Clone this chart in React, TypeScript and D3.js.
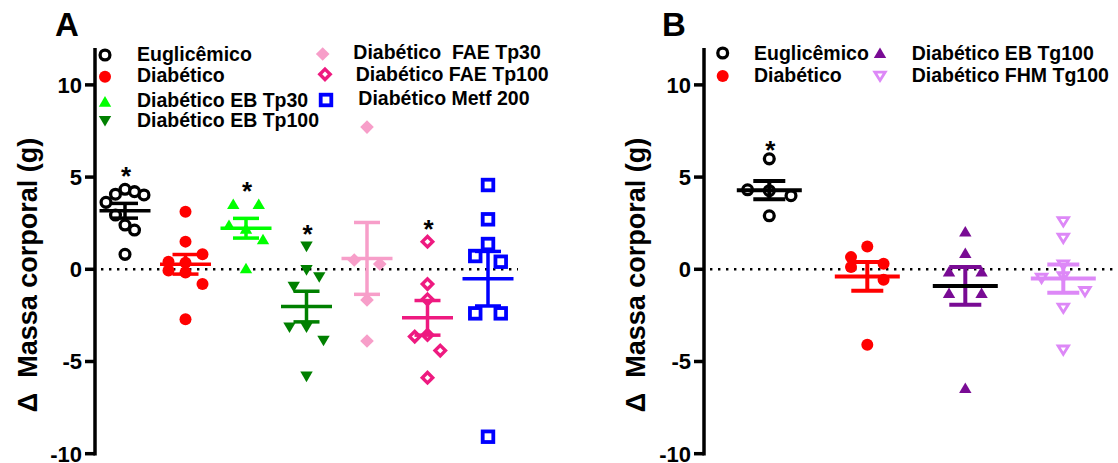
import React from 'react';
import * as d3 from 'd3';

// ---------- data ----------
const yTicks = [10, 5, 0, -5, -10];
const yDomain = [-10, 12];

const groupsA = [
  'Euglicêmico',
  'Diabético',
  'Diabético EB Tp30',
  'Diabético EB Tp100',
  'Diabético  FAE Tp30',
  'Diabético FAE Tp100',
  'Diabético Metf 200',
];
const euglicemicoA = [4.34, 4.21, 4.07, 4.03, 3.63, 2.4, 2.13, 2.94, 0.81];
const diabeticoA = [3.12, 1.5, 0.35, 0.81, 0.41, -0.18, -0.8, -0.07, -2.71];
const ebTp30 = [3.54, 3.54, 2.2, 1.63, 2.4, 0.05];
const ebTp100 = [1.23, -0.04, -0.43, -0.94, -3.15, -3.87, -3.15, -5.82];
const faeTp30 = [7.71, 0.29, 0.5, -1.66, -3.89];
const faeTp100 = [1.5, -0.8, -1.63, -3.56, -4.41, -3.65, -5.88];
const metf200 = [4.57, 2.71, 1.37, 0.41, 0.72, -2.39, -2.39, -9.08];
const valuesA = [euglicemicoA, diabeticoA, ebTp30, ebTp100, faeTp30, faeTp100, metf200];
const starsA = [true, false, true, true, false, true, false];

const groupsB = ['Euglicêmico', 'Diabético', 'Diabético EB Tg100', 'Diabético FHM Tg100'];
const euglicemicoB = [5.99, 4.26, 3.99, 4.31, 2.9];
const diabeticoB = [1.24, 0.3, 0.66, -0.57, 0.12, -4.09];
const ebTg100 = [2.05, 0.88, -0.12, -0.12, -1.29, -1.29, -6.44];
const fhmTg100 = [2.59, 1.69, 0.24, -0.39, -1.2, -0.48, -2.1, -4.37];
const valuesB = [euglicemicoB, diabeticoB, ebTg100, fhmTg100];
const starsB = [true, false, false, false];

// ---------- styles ----------
type MType = 'openCircle' | 'dot' | 'triUp' | 'triDown' | 'diamond' | 'openDiamond' | 'openSquare' | 'openTriDown';
const styleA: { m: MType; c: string; mean?: string }[] = [
  { m: 'openCircle', c: '#000000' },
  { m: 'dot', c: '#ff0000' },
  { m: 'triUp', c: '#00ff00' },
  { m: 'triDown', c: '#008000' },
  { m: 'diamond', c: '#f79ec9' },
  { m: 'openDiamond', c: '#ee1a80' },
  { m: 'openSquare', c: '#0000ff' },
];
const styleB: { m: MType; c: string; mean?: string }[] = [
  { m: 'openCircle', c: '#000000' },
  { m: 'dot', c: '#ff0000' },
  { m: 'triUp', c: '#790b94', mean: '#000000' },
  { m: 'openTriDown', c: '#dd88f7' },
];

const FONT = '"Liberation Sans", Arial, Helvetica, sans-serif';

function Marker({ t, c, x, y }: { t: MType; c: string; x: number; y: number }) {
  let el: any = null;
  switch (t) {
    case 'openCircle':
      el = <circle r={4.9} fill="#fff" stroke={c} strokeWidth={3.3} />;
      break;
    case 'dot':
      el = <circle r={6} fill={c} />;
      break;
    case 'triUp':
      el = <polygon points="0,-5.6 6.2,5 -6.2,5" fill={c} />;
      break;
    case 'triDown':
      el = <polygon points="0,5.6 6.2,-5 -6.2,-5" fill={c} />;
      break;
    case 'diamond':
      el = <polygon points="0,-6.8 6.8,0 0,6.8 -6.8,0" fill={c} />;
      break;
    case 'openDiamond':
      el = <polygon points="0,-5.2 5.2,0 0,5.2 -5.2,0" fill="#fff" stroke={c} strokeWidth={3.4} />;
      break;
    case 'openSquare':
      el = <rect x={-5.3} y={-5.3} width={10.6} height={10.6} fill="#fff" stroke={c} strokeWidth={3.8} />;
      break;
    case 'openTriDown':
      el = <polygon points="0,4.4 5.2,-3.9 -5.2,-3.9" fill="#fff" stroke={c} strokeWidth={2.8} />;
      break;
  }
  return <g transform={`translate(${x},${y})`}>{el}</g>;
}

// GraphPad-like row swarm: bottom-up rows, spread horizontally within row
function swarm(values: number[], baseStep: number, maxSpread: number, T = 0.82) {
  const idx = values.map((_, i) => i).sort((a, b) => values[a] - values[b]);
  const rows: number[][] = [];
  let cur: number[] = [];
  let first = 0;
  idx.forEach((i) => {
    if (cur.length === 0) {
      cur = [i];
      first = values[i];
    } else if (values[i] - first <= T) {
      cur.push(i);
    } else {
      rows.push(cur);
      cur = [i];
      first = values[i];
    }
  });
  if (cur.length) rows.push(cur);
  const maxRow = d3.max(rows, (r) => r.length) || 1;
  const step = maxRow > 1 ? Math.min(baseStep, maxSpread / (maxRow - 1)) : baseStep;
  const off = new Array(values.length).fill(0);
  rows.forEach((r) => {
    const mem = [...r].sort((a, b) => a - b);
    const n = mem.length;
    mem.forEach((i, k) => {
      let slot: number;
      if (n % 2 === 1) {
        slot = k === 0 ? 0 : (k % 2 === 1 ? 1 : -1) * Math.ceil(k / 2);
        off[i] = slot * step;
      } else {
        slot = (k % 2 === 0 ? 1 : -1) * (Math.floor(k / 2) + 0.5);
        off[i] = slot * step * 1.5;
      }
    });
  });
  return off;
}

function Panel({
  groups, values, styles, stars, range, axisX, zeroEnd, meanHalf, capHalf, barW, baseStep, maxSpread, starOff, y,
}: any) {
  const x = d3.scalePoint<string>().domain(groups).range(range);
  return (
    <g>
      {/* zero line */}
      <line x1={axisX + 6} x2={zeroEnd} y1={y(0)} y2={y(0)} stroke="#000" strokeWidth={2.4} strokeDasharray="2.4,5.6" />
      {/* axis */}
      <line x1={axisX} x2={axisX} y1={y(yDomain[1])} y2={y(yDomain[0]) + 1.75} stroke="#000" strokeWidth={3.5} />
      {yTicks.map((t) => (
        <g key={t}>
          <line x1={axisX - 10} x2={axisX} y1={y(t)} y2={y(t)} stroke="#000" strokeWidth={3.5} />
          <text x={axisX - 13} y={y(t)} dy="0.36em" textAnchor="end" fontSize={22} fontWeight="bold" fontFamily={FONT}>
            {t}
          </text>
        </g>
      ))}
      {/* points */}
      {groups.map((g: string, gi: number) => {
        const vals: number[] = values[gi];
        const off = swarm(vals, baseStep, maxSpread);
        const cx = x(g) as number;
        return (
          <g key={'p' + gi}>
            {vals.map((v, i) => (
              <Marker key={i} t={styles[gi].m} c={styles[gi].c} x={cx + off[i]} y={y(v)} />
            ))}
          </g>
        );
      })}
      {/* mean & SEM */}
      {groups.map((g: string, gi: number) => {
        const vals: number[] = values[gi];
        const m = d3.mean(vals) as number;
        const sem = (d3.deviation(vals) as number) / Math.sqrt(vals.length);
        const cx = x(g) as number;
        const c = styles[gi].c;
        const mc = styles[gi].mean || c;
        return (
          <g key={'e' + gi} strokeWidth={barW}>
            <line x1={cx} x2={cx} y1={y(m + sem)} y2={y(m - sem)} stroke={c} />
            <line x1={cx - capHalf} x2={cx + capHalf} y1={y(m + sem)} y2={y(m + sem)} stroke={c} />
            <line x1={cx - capHalf} x2={cx + capHalf} y1={y(m - sem)} y2={y(m - sem)} stroke={c} />
            <line x1={cx - meanHalf} x2={cx + meanHalf} y1={y(m)} y2={y(m)} stroke={mc} />
          </g>
        );
      })}
      {/* stars */}
      {groups.map((g: string, gi: number) => {
        if (!stars[gi]) return null;
        const mx = d3.max(values[gi] as number[]) as number;
        const cx = x(g) as number;
        return (
          <text key={'s' + gi} x={cx + 1} y={y(mx) - starOff + 15} textAnchor="middle" fontSize={26} fontWeight="bold" fontFamily={FONT}>
            *
          </text>
        );
      })}
    </g>
  );
}

export default function App() {
  const y = d3.scaleLinear().domain(yDomain).range([453.7, 48]);
  const lt = { fontSize: 19.5, fontWeight: 'bold' as const, fontFamily: FONT };
  return (
    <svg width={1118} height={463} style={{ position: 'absolute', left: 0, top: 0, background: '#fff' }}>
      <rect width={1118} height={463} fill="#fff" />
      {/* Panel labels */}
      <text x={55} y={36} fontSize={33} fontWeight="bold" fontFamily={FONT}>A</text>
      <text x={662} y={36} fontSize={33} fontWeight="bold" fontFamily={FONT}>B</text>
      {/* Y titles */}
      <text transform="translate(37,275) rotate(-90)" textAnchor="middle" fontSize={27} fontWeight="bold" fontFamily={FONT} style={{ whiteSpace: 'pre' }}>
        {'Δ  Massa corporal (g)'}
      </text>
      <text transform="translate(645,275) rotate(-90)" textAnchor="middle" fontSize={27} fontWeight="bold" fontFamily={FONT} style={{ whiteSpace: 'pre' }}>
        {'Δ  Massa corporal (g)'}
      </text>

      <Panel
        groups={groupsA} values={valuesA} styles={styleA} stars={starsA}
        range={[125, 488]} axisX={95} zeroEnd={518} meanHalf={25.5} capHalf={13} barW={3.5}
        baseStep={17} maxSpread={38} starOff={19} y={y}
      />
      <Panel
        groups={groupsB} values={valuesB} styles={styleB} stars={starsB}
        range={[769.3, 1063.3]} axisX={704} zeroEnd={1118} meanHalf={32.5} capHalf={16} barW={4}
        baseStep={21.7} maxSpread={60} starOff={15} y={y}
      />

      {/* Legend A */}
      <Marker t="openCircle" c="#000" x={105} y={55} />
      <Marker t="dot" c="#ff0000" x={105} y={76.7} />
      <Marker t="triUp" c="#00ff00" x={105} y={101.7} />
      <Marker t="triDown" c="#008000" x={105} y={121} />
      <text x={137} y={60.7} {...lt}>{groupsA[0]}</text>
      <text x={137} y={82.3} {...lt}>{groupsA[1]}</text>
      <text x={137} y={106.7} {...lt}>{groupsA[2]}</text>
      <text x={137} y={127.3} {...lt}>{groupsA[3]}</text>
      <Marker t="diamond" c="#f79ec9" x={322.7} y={54} />
      <Marker t="openDiamond" c="#ee1a80" x={325} y={74.3} />
      <Marker t="openSquare" c="#0000ff" x={326} y={100} />
      <text x={353.3} y={59.3} {...lt} style={{ whiteSpace: 'pre' }}>{groupsA[4]}</text>
      <text x={355.7} y={80.7} {...lt}>{groupsA[5]}</text>
      <text x={358.3} y={105} {...lt}>{groupsA[6]}</text>

      {/* Legend B */}
      <Marker t="openCircle" c="#000" x={722.7} y={53} />
      <Marker t="dot" c="#ff0000" x={722.7} y={76} />
      <Marker t="triUp" c="#790b94" x={880} y={53} />
      <Marker t="openTriDown" c="#dd88f7" x={880} y={76} />
      <text x={754} y={60.3} {...lt}>{groupsB[0]}</text>
      <text x={754} y={81.7} {...lt}>{groupsB[1]}</text>
      <text x={911.7} y={60.3} {...lt}>{groupsB[2]}</text>
      <text x={911.7} y={81.7} {...lt}>{groupsB[3]}</text>
    </svg>
  );
}
